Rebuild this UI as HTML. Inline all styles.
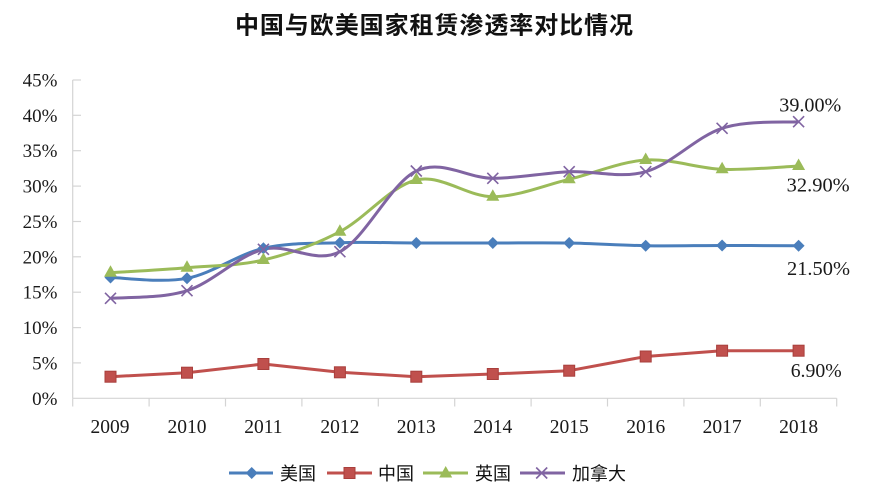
<!DOCTYPE html>
<html>
<head>
<meta charset="utf-8">
<style>
  html, body { margin: 0; padding: 0; background: #ffffff; }
  body { width: 878px; height: 496px; overflow: hidden; }
  svg { display: block; }
  .ser { font-family: "Liberation Serif", "Noto Serif CJK SC", serif; fill: #1a1a1a; }
  .cjk { font-family: "Liberation Sans", "Noto Sans CJK SC", sans-serif; fill: #111; }
</style>
</head>
<body>
<svg width="878" height="496" viewBox="0 0 878 496" xmlns="http://www.w3.org/2000/svg">
  <rect x="0" y="0" width="878" height="496" fill="#ffffff"/>

  <!-- Title -->
  <text class="cjk" x="235" y="33.5" font-size="24" font-weight="bold" textLength="398" lengthAdjust="spacing">中国与欧美国家租赁渗透率对比情况</text>

  <!-- Axes -->
  <g stroke="#d4d4d4" stroke-width="1.2" fill="none">
    <line x1="72.7" y1="80" x2="72.7" y2="398.3"/>
    <line x1="72.7" y1="398.3" x2="836.7" y2="398.3"/>
    <!-- y ticks -->
    <line x1="72.7" y1="80" x2="81" y2="80"/>
    <line x1="72.7" y1="115.3" x2="81" y2="115.3"/>
    <line x1="72.7" y1="150.7" x2="81" y2="150.7"/>
    <line x1="72.7" y1="186.1" x2="81" y2="186.1"/>
    <line x1="72.7" y1="221.5" x2="81" y2="221.5"/>
    <line x1="72.7" y1="256.8" x2="81" y2="256.8"/>
    <line x1="72.7" y1="292.2" x2="81" y2="292.2"/>
    <line x1="72.7" y1="327.6" x2="81" y2="327.6"/>
    <line x1="72.7" y1="362.9" x2="81" y2="362.9"/>
    <!-- x ticks -->
    <line x1="72.7" y1="398.3" x2="72.7" y2="406.5"/>
    <line x1="149.1" y1="398.3" x2="149.1" y2="406.5"/>
    <line x1="225.5" y1="398.3" x2="225.5" y2="406.5"/>
    <line x1="301.9" y1="398.3" x2="301.9" y2="406.5"/>
    <line x1="378.3" y1="398.3" x2="378.3" y2="406.5"/>
    <line x1="454.7" y1="398.3" x2="454.7" y2="406.5"/>
    <line x1="531.1" y1="398.3" x2="531.1" y2="406.5"/>
    <line x1="607.5" y1="398.3" x2="607.5" y2="406.5"/>
    <line x1="683.9" y1="398.3" x2="683.9" y2="406.5"/>
    <line x1="760.3" y1="398.3" x2="760.3" y2="406.5"/>
    <line x1="836.7" y1="398.3" x2="836.7" y2="406.5"/>
  </g>

  <!-- Y labels -->
  <g class="ser" font-size="19" text-anchor="end">
    <text x="57.5" y="86.5">45%</text>
    <text x="57.5" y="121.8">40%</text>
    <text x="57.5" y="157.2">35%</text>
    <text x="57.5" y="192.6">30%</text>
    <text x="57.5" y="228">25%</text>
    <text x="57.5" y="263.3">20%</text>
    <text x="57.5" y="298.7">15%</text>
    <text x="57.5" y="334.1">10%</text>
    <text x="57.5" y="369.4">5%</text>
    <text x="57.5" y="404.8">0%</text>
  </g>

  <!-- X labels -->
  <g class="ser" font-size="19.5" text-anchor="middle">
    <text x="110" y="433">2009</text>
    <text x="187" y="433">2010</text>
    <text x="263.4" y="433">2011</text>
    <text x="339.9" y="433">2012</text>
    <text x="416.3" y="433">2013</text>
    <text x="492.8" y="433">2014</text>
    <text x="569.2" y="433">2015</text>
    <text x="645.7" y="433">2016</text>
    <text x="722.1" y="433">2017</text>
    <text x="798.6" y="433">2018</text>
  </g>

  <!-- Series: 中国 (red) -->
  <polyline fill="none" stroke="#C0504D" stroke-width="3" stroke-linejoin="round"
    points="110.5,376.7 187,372.7 263.4,364 339.9,372.3 416.3,376.7 492.8,374 569.2,370.7 645.7,356.5 722.1,350.7 798.6,350.7"/>

  <!-- Series: 美国 (blue) -->
  <path fill="none" stroke="#4A7EBB" stroke-width="3" stroke-linejoin="round"
    d="M110.5,277.5 C123.25,277.63 161.52,283.17 187,278.3 C212.48,273.43 237.92,254.23 263.4,248.3 C288.88,242.37 314.42,243.58 339.9,242.7 C365.38,241.82 390.82,242.95 416.3,243 C441.78,243.05 467.32,243 492.8,243 C518.28,243 543.72,242.55 569.2,243 C594.68,243.45 620.22,245.28 645.7,245.7 C671.18,246.12 696.62,245.5 722.1,245.5 C747.58,245.5 785.85,245.67 798.6,245.7"/>

  <!-- Series: 英国 (green) -->
  <path fill="none" stroke="#9BBB59" stroke-width="3" stroke-linejoin="round"
    d="M110.5,272.7 C123.25,271.87 161.52,269.82 187,267.7 C212.48,265.58 237.92,266 263.4,260 C288.88,254 314.42,245.03 339.9,231.7 C365.38,218.37 390.82,185.83 416.3,180 C441.78,174.17 467.32,196.82 492.8,196.7 C518.28,196.58 543.72,185.42 569.2,179.3 C594.68,173.18 620.22,161.67 645.7,160 C671.18,158.33 696.62,168.3 722.1,169.3 C747.58,170.3 785.85,166.55 798.6,166"/>

  <!-- Series: 加拿大 (purple) -->
  <path fill="none" stroke="#8064A2" stroke-width="3" stroke-linejoin="round"
    d="M110.5,298.3 C123.25,297.03 161.52,298.87 187,290.7 C212.48,282.53 237.92,255.8 263.4,249.3 C288.88,242.8 314.42,264.75 339.9,251.7 C365.38,238.65 390.82,183.23 416.3,171 C441.78,158.77 467.32,178.18 492.8,178.3 C518.28,178.42 543.72,172.8 569.2,171.7 C594.68,170.6 620.22,178.93 645.7,171.7 C671.18,164.47 696.62,136.63 722.1,128.3 C747.58,119.97 785.85,122.8 798.6,121.7"/>

  <!-- Red squares -->
  <g fill="#C0504D" stroke="#A93F3C" stroke-width="1">
    <rect x="105" y="371.2" width="11" height="11"/>
    <rect x="181.5" y="367.2" width="11" height="11"/>
    <rect x="257.9" y="358.5" width="11" height="11"/>
    <rect x="334.4" y="366.8" width="11" height="11"/>
    <rect x="410.8" y="371.2" width="11" height="11"/>
    <rect x="487.3" y="368.5" width="11" height="11"/>
    <rect x="563.7" y="365.2" width="11" height="11"/>
    <rect x="640.2" y="351" width="11" height="11"/>
    <rect x="716.6" y="345.2" width="11" height="11"/>
    <rect x="793.1" y="345.2" width="11" height="11"/>
  </g>

  <!-- Blue diamonds -->
  <g fill="#4A7EBB">
    <polygon points="110.5,271.5 116.5,277.5 110.5,283.5 104.5,277.5"/>
    <polygon points="187,272.3 193,278.3 187,284.3 181,278.3"/>
    <polygon points="263.4,242.3 269.4,248.3 263.4,254.3 257.4,248.3"/>
    <polygon points="339.9,236.7 345.9,242.7 339.9,248.7 333.9,242.7"/>
    <polygon points="416.3,237 422.3,243 416.3,249 410.3,243"/>
    <polygon points="492.8,237 498.8,243 492.8,249 486.8,243"/>
    <polygon points="569.2,237 575.2,243 569.2,249 563.2,243"/>
    <polygon points="645.7,239.7 651.7,245.7 645.7,251.7 639.7,245.7"/>
    <polygon points="722.1,239.5 728.1,245.5 722.1,251.5 716.1,245.5"/>
    <polygon points="798.6,239.7 804.6,245.7 798.6,251.7 792.6,245.7"/>
  </g>

  <!-- Green triangles -->
  <g fill="#9BBB59">
    <polygon points="110.5,265.2 117,276.7 104,276.7"/>
    <polygon points="187,260.2 193.5,271.7 180.5,271.7"/>
    <polygon points="263.4,252.5 269.9,264 256.9,264"/>
    <polygon points="339.9,224.2 346.4,235.7 333.4,235.7"/>
    <polygon points="416.3,172.5 422.8,184 409.8,184"/>
    <polygon points="492.8,189.2 499.3,200.7 486.3,200.7"/>
    <polygon points="569.2,171.8 575.7,183.3 562.7,183.3"/>
    <polygon points="645.7,152.5 652.2,164 639.2,164"/>
    <polygon points="722.1,161.8 728.6,173.3 715.6,173.3"/>
    <polygon points="798.6,158.5 805.1,170 792.1,170"/>
  </g>

  <!-- Purple X markers -->
  <g stroke="#8064A2" stroke-width="1.6" fill="none">
    <path d="M105,292.8 L116,303.8 M116,292.8 L105,303.8"/>
    <path d="M181.5,285.2 L192.5,296.2 M192.5,285.2 L181.5,296.2"/>
    <path d="M257.9,243.8 L268.9,254.8 M268.9,243.8 L257.9,254.8"/>
    <path d="M334.4,246.2 L345.4,257.2 M345.4,246.2 L334.4,257.2"/>
    <path d="M410.8,165.5 L421.8,176.5 M421.8,165.5 L410.8,176.5"/>
    <path d="M487.3,172.8 L498.3,183.8 M498.3,172.8 L487.3,183.8"/>
    <path d="M563.7,166.2 L574.7,177.2 M574.7,166.2 L563.7,177.2"/>
    <path d="M640.2,166.2 L651.2,177.2 M651.2,166.2 L640.2,177.2"/>
    <path d="M716.6,122.8 L727.6,133.8 M727.6,122.8 L716.6,133.8"/>
    <path d="M793.1,116.2 L804.1,127.2 M804.1,116.2 L793.1,127.2"/>
  </g>

  <!-- Data labels -->
  <g class="ser" font-size="20">
    <text x="779.3" y="111.7" textLength="62" lengthAdjust="spacingAndGlyphs">39.00%</text>
    <text x="786.7" y="191.7" textLength="63" lengthAdjust="spacingAndGlyphs">32.90%</text>
    <text x="787" y="275" textLength="63" lengthAdjust="spacingAndGlyphs">21.50%</text>
    <text x="790.7" y="377" textLength="51" lengthAdjust="spacingAndGlyphs">6.90%</text>
  </g>

  <!-- Legend -->
  <g>
    <line x1="229" y1="473" x2="273" y2="473" stroke="#4A7EBB" stroke-width="3"/>
    <polygon points="251.7,467 257.7,473 251.7,479 245.7,473" fill="#4A7EBB"/>
    <text class="cjk" x="280" y="480" font-size="18">美国</text>

    <line x1="327" y1="473" x2="372" y2="473" stroke="#C0504D" stroke-width="3"/>
    <rect x="344" y="467.5" width="11" height="11" fill="#C0504D" stroke="#A93F3C" stroke-width="1"/>
    <text class="cjk" x="378" y="480" font-size="18">中国</text>

    <line x1="423" y1="473" x2="468" y2="473" stroke="#9BBB59" stroke-width="3"/>
    <polygon points="445.7,466 452.2,477.5 439.2,477.5" fill="#9BBB59"/>
    <text class="cjk" x="475" y="480" font-size="18">英国</text>

    <line x1="520" y1="473" x2="565" y2="473" stroke="#8064A2" stroke-width="3"/>
    <path d="M536.2,467.5 L547.2,478.5 M547.2,467.5 L536.2,478.5" stroke="#8064A2" stroke-width="1.6" fill="none"/>
    <text class="cjk" x="572" y="480" font-size="18">加拿大</text>
  </g>
</svg>
</body>
</html>
